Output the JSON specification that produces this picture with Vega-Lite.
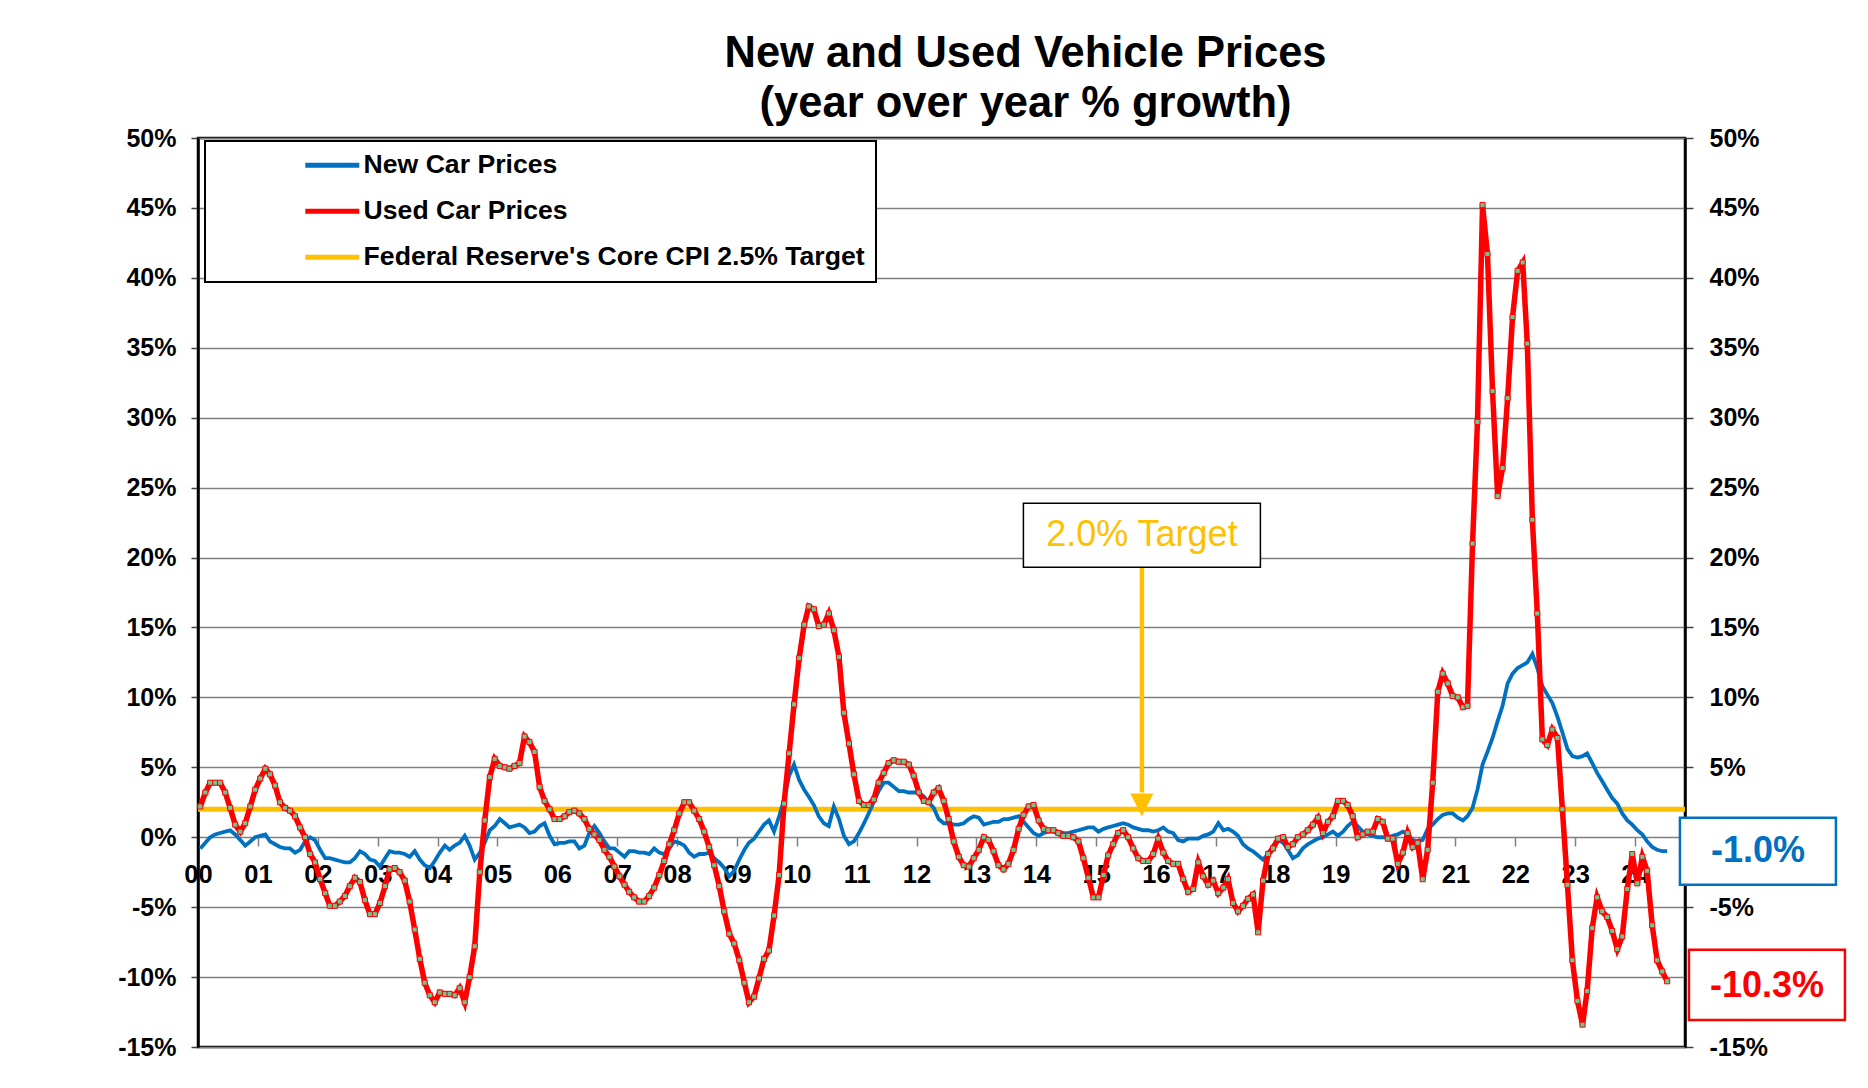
{
"$schema": "https://vega.github.io/schema/vega-lite/v6.json",
"width": 1487,
"height": 909,
"autosize": {"type": "none"},
"padding": {"left": 198, "top": 138, "right": 183, "bottom": 41},
"background": "white",
"title": {"text": ["New and Used Vehicle Prices", "(year over year % growth)"], "anchor": "middle", "frame": "group", "dx": 84, "offset": 0, "font": "Liberation Sans", "fontSize": 43.5, "fontWeight": "bold", "color": "black", "lineHeight": 50},
"datasets": {
"main": [
{"d":"2000-01-15","new":-0.8,"used":2.2},{"d":"2000-02-15","new":-0.4,"used":3.2},{"d":"2000-03-15","new":0.0,"used":3.9},{"d":"2000-04-15","new":0.2,"used":3.9},{"d":"2000-05-15","new":0.3,"used":3.9},{"d":"2000-06-15","new":0.4,"used":3.2},{"d":"2000-07-15","new":0.5,"used":2.1},{"d":"2000-08-15","new":0.2,"used":0.9},{"d":"2000-09-15","new":-0.2,"used":0.4},{"d":"2000-10-15","new":-0.6,"used":1.0},{"d":"2000-11-15","new":-0.3,"used":2.2},{"d":"2000-12-15","new":0.0,"used":3.4},
{"d":"2001-01-15","new":0.1,"used":4.2},{"d":"2001-02-15","new":0.2,"used":4.9},{"d":"2001-03-15","new":-0.3,"used":4.5},{"d":"2001-04-15","new":-0.5,"used":3.7},{"d":"2001-05-15","new":-0.7,"used":2.5},{"d":"2001-06-15","new":-0.8,"used":2.1},{"d":"2001-07-15","new":-0.8,"used":1.9},{"d":"2001-08-15","new":-1.1,"used":1.5},{"d":"2001-09-15","new":-0.9,"used":0.7},{"d":"2001-10-15","new":-0.3,"used":0.0},{"d":"2001-11-15","new":0.0,"used":-1.2},{"d":"2001-12-15","new":-0.2,"used":-1.8},
{"d":"2002-01-15","new":-0.9,"used":-3.0},{"d":"2002-02-15","new":-1.5,"used":-4.0},{"d":"2002-03-15","new":-1.5,"used":-4.9},{"d":"2002-04-15","new":-1.6,"used":-4.9},{"d":"2002-05-15","new":-1.7,"used":-4.6},{"d":"2002-06-15","new":-1.8,"used":-4.2},{"d":"2002-07-15","new":-1.8,"used":-3.5},{"d":"2002-08-15","new":-1.5,"used":-2.9},{"d":"2002-09-15","new":-1.0,"used":-3.2},{"d":"2002-10-15","new":-1.2,"used":-4.5},{"d":"2002-11-15","new":-1.6,"used":-5.5},{"d":"2002-12-15","new":-1.7,"used":-5.5},
{"d":"2003-01-15","new":-2.1,"used":-4.7},{"d":"2003-02-15","new":-1.5,"used":-3.5},{"d":"2003-03-15","new":-1.0,"used":-2.3},{"d":"2003-04-15","new":-1.1,"used":-2.2},{"d":"2003-05-15","new":-1.1,"used":-2.5},{"d":"2003-06-15","new":-1.2,"used":-3.1},{"d":"2003-07-15","new":-1.4,"used":-4.6},{"d":"2003-08-15","new":-1.0,"used":-6.6},{"d":"2003-09-15","new":-1.6,"used":-8.7},{"d":"2003-10-15","new":-2.0,"used":-10.4},{"d":"2003-11-15","new":-2.2,"used":-11.3},{"d":"2003-12-15","new":-1.7,"used":-11.8},
{"d":"2004-01-15","new":-1.1,"used":-11.1},{"d":"2004-02-15","new":-0.6,"used":-11.2},{"d":"2004-03-15","new":-0.9,"used":-11.2},{"d":"2004-04-15","new":-0.6,"used":-11.3},{"d":"2004-05-15","new":-0.4,"used":-10.8},{"d":"2004-06-15","new":0.1,"used":-11.8},{"d":"2004-07-15","new":-0.6,"used":-10.0},{"d":"2004-08-15","new":-1.6,"used":-7.8},{"d":"2004-09-15","new":-1.1,"used":-2.5},{"d":"2004-10-15","new":-0.4,"used":1.2},{"d":"2004-11-15","new":0.5,"used":4.3},{"d":"2004-12-15","new":0.8,"used":5.6},
{"d":"2005-01-15","new":1.3,"used":5.1},{"d":"2005-02-15","new":1.0,"used":5.0},{"d":"2005-03-15","new":0.7,"used":4.9},{"d":"2005-04-15","new":0.8,"used":5.1},{"d":"2005-05-15","new":0.9,"used":5.3},{"d":"2005-06-15","new":0.7,"used":7.2},{"d":"2005-07-15","new":0.3,"used":6.8},{"d":"2005-08-15","new":0.4,"used":6.1},{"d":"2005-09-15","new":0.8,"used":3.6},{"d":"2005-10-15","new":1.0,"used":2.6},{"d":"2005-11-15","new":0.1,"used":2.0},{"d":"2005-12-15","new":-0.5,"used":1.3},
{"d":"2006-01-15","new":-0.4,"used":1.3},{"d":"2006-02-15","new":-0.4,"used":1.5},{"d":"2006-03-15","new":-0.3,"used":1.8},{"d":"2006-04-15","new":-0.3,"used":1.9},{"d":"2006-05-15","new":-0.8,"used":1.7},{"d":"2006-06-15","new":-0.6,"used":1.3},{"d":"2006-07-15","new":0.3,"used":0.6},{"d":"2006-08-15","new":0.8,"used":0.2},{"d":"2006-09-15","new":0.3,"used":-0.2},{"d":"2006-10-15","new":-0.3,"used":-0.9},{"d":"2006-11-15","new":-0.8,"used":-1.4},{"d":"2006-12-15","new":-0.8,"used":-2.1},
{"d":"2007-01-15","new":-1.1,"used":-2.8},{"d":"2007-02-15","new":-1.4,"used":-3.4},{"d":"2007-03-15","new":-1.0,"used":-3.9},{"d":"2007-04-15","new":-1.0,"used":-4.3},{"d":"2007-05-15","new":-1.1,"used":-4.6},{"d":"2007-06-15","new":-1.1,"used":-4.6},{"d":"2007-07-15","new":-1.2,"used":-4.2},{"d":"2007-08-15","new":-0.8,"used":-3.6},{"d":"2007-09-15","new":-1.1,"used":-2.7},{"d":"2007-10-15","new":-1.2,"used":-1.7},{"d":"2007-11-15","new":-0.8,"used":-0.5},{"d":"2007-12-15","new":-0.3,"used":0.5},
{"d":"2008-01-15","new":-0.4,"used":1.7},{"d":"2008-02-15","new":-0.6,"used":2.5},{"d":"2008-03-15","new":-1.1,"used":2.5},{"d":"2008-04-15","new":-1.4,"used":1.9},{"d":"2008-05-15","new":-1.2,"used":1.3},{"d":"2008-06-15","new":-1.2,"used":0.4},{"d":"2008-07-15","new":-1.1,"used":-0.7},{"d":"2008-08-15","new":-1.5,"used":-2.0},{"d":"2008-09-15","new":-1.8,"used":-3.5},{"d":"2008-10-15","new":-2.2,"used":-5.3},{"d":"2008-11-15","new":-2.8,"used":-6.9},{"d":"2008-12-15","new":-2.4,"used":-7.6},
{"d":"2009-01-15","new":-1.6,"used":-8.8},{"d":"2009-02-15","new":-0.9,"used":-10.4},{"d":"2009-03-15","new":-0.4,"used":-11.8},{"d":"2009-04-15","new":-0.1,"used":-11.4},{"d":"2009-05-15","new":0.4,"used":-10.1},{"d":"2009-06-15","new":0.9,"used":-8.7},{"d":"2009-07-15","new":1.2,"used":-8.1},{"d":"2009-08-15","new":0.4,"used":-5.6},{"d":"2009-09-15","new":1.5,"used":-2.7},{"d":"2009-10-15","new":2.7,"used":2.4},{"d":"2009-11-15","new":4.4,"used":6.0},{"d":"2009-12-15","new":5.2,"used":9.5},
{"d":"2010-01-15","new":4.1,"used":12.8},{"d":"2010-02-15","new":3.4,"used":15.2},{"d":"2010-03-15","new":2.9,"used":16.5},{"d":"2010-04-15","new":2.3,"used":16.3},{"d":"2010-05-15","new":1.5,"used":15.1},{"d":"2010-06-15","new":1.0,"used":15.2},{"d":"2010-07-15","new":0.8,"used":16.0},{"d":"2010-08-15","new":2.2,"used":14.8},{"d":"2010-09-15","new":1.3,"used":12.9},{"d":"2010-10-15","new":0.1,"used":8.9},{"d":"2010-11-15","new":-0.5,"used":6.7},{"d":"2010-12-15","new":-0.3,"used":4.5},
{"d":"2011-01-15","new":0.3,"used":2.6},{"d":"2011-02-15","new":1.0,"used":2.3},{"d":"2011-03-15","new":1.7,"used":2.3},{"d":"2011-04-15","new":2.5,"used":2.7},{"d":"2011-05-15","new":3.3,"used":3.9},{"d":"2011-06-15","new":3.9,"used":4.6},{"d":"2011-07-15","new":3.9,"used":5.3},{"d":"2011-08-15","new":3.6,"used":5.5},{"d":"2011-09-15","new":3.3,"used":5.4},{"d":"2011-10-15","new":3.3,"used":5.4},{"d":"2011-11-15","new":3.2,"used":5.2},{"d":"2011-12-15","new":3.2,"used":4.4},
{"d":"2012-01-15","new":3.2,"used":3.2},{"d":"2012-02-15","new":2.9,"used":2.6},{"d":"2012-03-15","new":2.5,"used":2.5},{"d":"2012-04-15","new":2.1,"used":3.2},{"d":"2012-05-15","new":1.3,"used":3.5},{"d":"2012-06-15","new":1.0,"used":2.6},{"d":"2012-07-15","new":1.0,"used":1.3},{"d":"2012-08-15","new":0.9,"used":-0.3},{"d":"2012-09-15","new":0.9,"used":-1.4},{"d":"2012-10-15","new":1.0,"used":-2.0},{"d":"2012-11-15","new":1.3,"used":-2.1},{"d":"2012-12-15","new":1.5,"used":-1.5},
{"d":"2013-01-15","new":1.4,"used":-0.9},{"d":"2013-02-15","new":0.9,"used":0.0},{"d":"2013-03-15","new":1.0,"used":-0.2},{"d":"2013-04-15","new":1.1,"used":-1.0},{"d":"2013-05-15","new":1.1,"used":-2.0},{"d":"2013-06-15","new":1.3,"used":-2.3},{"d":"2013-07-15","new":1.3,"used":-1.9},{"d":"2013-08-15","new":1.4,"used":-0.9},{"d":"2013-09-15","new":1.5,"used":0.6},{"d":"2013-10-15","new":1.1,"used":1.6},{"d":"2013-11-15","new":0.7,"used":2.2},{"d":"2013-12-15","new":0.3,"used":2.3},
{"d":"2014-01-15","new":0.1,"used":1.2},{"d":"2014-02-15","new":0.3,"used":0.6},{"d":"2014-03-15","new":0.4,"used":0.5},{"d":"2014-04-15","new":0.4,"used":0.5},{"d":"2014-05-15","new":0.4,"used":0.3},{"d":"2014-06-15","new":0.3,"used":0.1},{"d":"2014-07-15","new":0.3,"used":0.1},{"d":"2014-08-15","new":0.4,"used":0.0},{"d":"2014-09-15","new":0.5,"used":-0.3},{"d":"2014-10-15","new":0.6,"used":-1.5},{"d":"2014-11-15","new":0.7,"used":-2.9},{"d":"2014-12-15","new":0.7,"used":-4.3},
{"d":"2015-01-15","new":0.4,"used":-4.3},{"d":"2015-02-15","new":0.6,"used":-2.7},{"d":"2015-03-15","new":0.7,"used":-1.3},{"d":"2015-04-15","new":0.8,"used":-0.5},{"d":"2015-05-15","new":0.9,"used":0.3},{"d":"2015-06-15","new":1.0,"used":0.5},{"d":"2015-07-15","new":0.9,"used":0.0},{"d":"2015-08-15","new":0.7,"used":-0.8},{"d":"2015-09-15","new":0.6,"used":-1.5},{"d":"2015-10-15","new":0.5,"used":-1.7},{"d":"2015-11-15","new":0.5,"used":-1.7},{"d":"2015-12-15","new":0.4,"used":-1.2},
{"d":"2016-01-15","new":0.5,"used":-0.1},{"d":"2016-02-15","new":0.7,"used":-1.1},{"d":"2016-03-15","new":0.4,"used":-1.7},{"d":"2016-04-15","new":0.3,"used":-1.9},{"d":"2016-05-15","new":-0.2,"used":-1.9},{"d":"2016-06-15","new":-0.3,"used":-3.0},{"d":"2016-07-15","new":-0.1,"used":-3.9},{"d":"2016-08-15","new":-0.1,"used":-3.7},{"d":"2016-09-15","new":-0.1,"used":-1.8},{"d":"2016-10-15","new":0.1,"used":-2.8},{"d":"2016-11-15","new":0.2,"used":-3.4},{"d":"2016-12-15","new":0.4,"used":-3.1},
{"d":"2017-01-15","new":1.0,"used":-4.0},{"d":"2017-02-15","new":0.5,"used":-3.6},{"d":"2017-03-15","new":0.6,"used":-3.0},{"d":"2017-04-15","new":0.4,"used":-4.7},{"d":"2017-05-15","new":0.1,"used":-5.3},{"d":"2017-06-15","new":-0.5,"used":-4.9},{"d":"2017-07-15","new":-0.8,"used":-4.4},{"d":"2017-08-15","new":-1.0,"used":-4.1},{"d":"2017-09-15","new":-1.3,"used":-6.8},{"d":"2017-10-15","new":-1.6,"used":-3.1},{"d":"2017-11-15","new":-1.2,"used":-1.2},{"d":"2017-12-15","new":-0.6,"used":-0.8},
{"d":"2018-01-15","new":-0.2,"used":-0.1},{"d":"2018-02-15","new":-0.4,"used":0.0},{"d":"2018-03-15","new":-0.9,"used":-0.7},{"d":"2018-04-15","new":-1.5,"used":-0.5},{"d":"2018-05-15","new":-1.3,"used":0.0},{"d":"2018-06-15","new":-0.8,"used":0.2},{"d":"2018-07-15","new":-0.5,"used":0.5},{"d":"2018-08-15","new":-0.3,"used":0.9},{"d":"2018-09-15","new":-0.1,"used":1.4},{"d":"2018-10-15","new":0.0,"used":0.3},{"d":"2018-11-15","new":0.2,"used":1.1},{"d":"2018-12-15","new":0.4,"used":1.5},
{"d":"2019-01-15","new":0.1,"used":2.6},{"d":"2019-02-15","new":0.4,"used":2.6},{"d":"2019-03-15","new":0.8,"used":2.3},{"d":"2019-04-15","new":1.1,"used":1.5},{"d":"2019-05-15","new":0.8,"used":0.0},{"d":"2019-06-15","new":0.4,"used":0.2},{"d":"2019-07-15","new":0.2,"used":0.4},{"d":"2019-08-15","new":0.1,"used":0.4},{"d":"2019-09-15","new":0.0,"used":1.3},{"d":"2019-10-15","new":0.0,"used":1.1},{"d":"2019-11-15","new":0.0,"used":-0.1},{"d":"2019-12-15","new":0.1,"used":-0.1},
{"d":"2020-01-15","new":0.2,"used":-1.9},{"d":"2020-02-15","new":0.4,"used":-1.1},{"d":"2020-03-15","new":0.2,"used":0.3},{"d":"2020-04-15","new":-0.2,"used":-0.7},{"d":"2020-05-15","new":-0.3,"used":-0.4},{"d":"2020-06-15","new":-0.2,"used":-3.0},{"d":"2020-07-15","new":0.6,"used":-0.9},{"d":"2020-08-15","new":0.9,"used":3.9},{"d":"2020-09-15","new":1.3,"used":10.4},{"d":"2020-10-15","new":1.6,"used":11.7},{"d":"2020-11-15","new":1.7,"used":11.0},{"d":"2020-12-15","new":1.7,"used":10.1},
{"d":"2021-01-15","new":1.4,"used":10.0},{"d":"2021-02-15","new":1.2,"used":9.3},{"d":"2021-03-15","new":1.5,"used":9.4},{"d":"2021-04-15","new":2.1,"used":21.0},{"d":"2021-05-15","new":3.4,"used":29.7},{"d":"2021-06-15","new":5.2,"used":45.2},{"d":"2021-07-15","new":6.1,"used":41.7},{"d":"2021-08-15","new":7.1,"used":31.9},{"d":"2021-09-15","new":8.3,"used":24.4},{"d":"2021-10-15","new":9.4,"used":26.4},{"d":"2021-11-15","new":11.0,"used":31.4},{"d":"2021-12-15","new":11.7,"used":37.2},
{"d":"2022-01-15","new":12.1,"used":40.5},{"d":"2022-02-15","new":12.3,"used":41.1},{"d":"2022-03-15","new":12.5,"used":35.3},{"d":"2022-04-15","new":13.1,"used":22.7},{"d":"2022-05-15","new":12.1,"used":16.0},{"d":"2022-06-15","new":10.8,"used":7.0},{"d":"2022-07-15","new":10.2,"used":6.6},{"d":"2022-08-15","new":9.6,"used":7.7},{"d":"2022-09-15","new":8.6,"used":7.1},{"d":"2022-10-15","new":7.5,"used":2.0},{"d":"2022-11-15","new":6.3,"used":-3.4},{"d":"2022-12-15","new":5.8,"used":-8.8},
{"d":"2023-01-15","new":5.7,"used":-11.7},{"d":"2023-02-15","new":5.8,"used":-13.4},{"d":"2023-03-15","new":6.0,"used":-11.0},{"d":"2023-04-15","new":5.3,"used":-6.5},{"d":"2023-05-15","new":4.6,"used":-4.3},{"d":"2023-06-15","new":4.0,"used":-5.3},{"d":"2023-07-15","new":3.4,"used":-5.7},{"d":"2023-08-15","new":2.8,"used":-6.7},{"d":"2023-09-15","new":2.4,"used":-8.0},{"d":"2023-10-15","new":1.7,"used":-7.1},{"d":"2023-11-15","new":1.2,"used":-3.7},{"d":"2023-12-15","new":0.9,"used":-1.2},
{"d":"2024-01-15","new":0.5,"used":-3.3},{"d":"2024-02-15","new":0.2,"used":-1.4},{"d":"2024-03-15","new":-0.3,"used":-2.4},{"d":"2024-04-15","new":-0.7,"used":-6.3},{"d":"2024-05-15","new":-0.9,"used":-8.8},{"d":"2024-06-15","new":-1.0,"used":-9.6},{"d":"2024-07-15","new":-1.0,"used":-10.3}
],
"target": [{"d":"2000-01-01","value":2.0},{"d":"2024-11-01","value":2.0}],
"ends": [{"d":"2024-07-15","value":-1.0,"label":"-1.0%","series":"new"},{"d":"2024-07-15","value":-10.3,"label":"-10.3%","series":"used"}],
"note": [{"label":"2.0% Target"}]
},
"layer": [
{"data":{"name":"target"},
 "mark":{"type":"line","strokeWidth":5,"strokeCap":"butt"},
 "encoding":{
  "x":{"field":"d","type":"temporal","title":null,
   "scale":{"type":"utc","domain":[{"year":2000,"month":1,"date":1,"utc":true},{"year":2024,"month":11,"date":1,"utc":true}]},
   "axis":{"orient":"bottom","offset":-210,"format":"%y","tickCount":{"interval":"year","step":1},"domain":false,"grid":false,"ticks":true,"tickColor":"#808080","tickWidth":1.5,"tickSize":9,"labelPadding":16,"labelFont":"Liberation Sans","labelFontSize":25.5,"labelFontWeight":"bold","labelColor":"black","labelFlush":false,"labelOverlap":false,"labelAlign":"center","title":null}},
  "y":{"field":"value","type":"quantitative","title":null,"scale":{"domain":[-15,50],"nice":false,"zero":false},
   "axis":{"orient":"left","values":[-15,-10,-5,0,5,10,15,20,25,30,35,40,45,50],"labelExpr":"datum.value + '%'","grid":true,"gridColor":"#7f7f7f","gridWidth":1.5,"domain":true,"domainColor":"black","domainWidth":2.5,"ticks":true,"tickColor":"#404040","tickWidth":1.5,"tickSize":7,"labelPadding":15,"labelFont":"Liberation Sans","labelFontSize":25,"labelFontWeight":"bold","labelColor":"black","title":null}},
  "color":{"datum":"Federal Reserve's Core CPI 2.5% Target","type":"nominal",
   "scale":{"domain":["New Car Prices","Used Car Prices","Federal Reserve's Core CPI 2.5% Target"],"range":["#0070C0","#FF0000","#FFC000"]},
   "legend":{"orient":"none","legendX":7,"legendY":3,"title":null,"symbolType":"M-2.7,0H2.7","symbolSize":400,"symbolStrokeWidth":5,"symbolOffset":103,"labelOffset":18,"padding":11,"rowPadding":19,"fillColor":"white","strokeColor":"black","labelFont":"Liberation Sans","labelFontSize":26.6,"labelFontWeight":"bold","labelColor":"black","labelLimit":0}}
 }},
{"data":{"name":"main"},
 "mark":{"type":"line","strokeWidth":3.8},
 "encoding":{
  "x":{"field":"d","type":"temporal","title":null},
  "y":{"field":"new","type":"quantitative","title":null,
   "axis":{"orient":"right","values":[-15,-5,5,10,15,20,25,30,35,40,45,50],"labelExpr":"datum.value + '%'","grid":false,"domain":true,"domainColor":"black","domainWidth":2.5,"ticks":true,"tickColor":"#404040","tickWidth":1.5,"tickSize":8,"labelPadding":16,"labelFont":"Liberation Sans","labelFontSize":25,"labelFontWeight":"bold","labelColor":"black","title":null}},
  "color":{"datum":"New Car Prices","type":"nominal"}
 }},
{"data":{"name":"main"},
 "mark":{"type":"line","strokeWidth":5.5},
 "encoding":{
  "x":{"field":"d","type":"temporal","title":null},
  "y":{"field":"used","type":"quantitative","title":null,"axis":null},
  "color":{"datum":"Used Car Prices","type":"nominal"}
 }},
{"data":{"name":"main"},
 "mark":{"type":"point","shape":"square","filled":true,"fill":"#70C68F","stroke":"#FF0000","strokeWidth":1,"size":26,"opacity":1},
 "encoding":{
  "x":{"field":"d","type":"temporal","title":null},
  "y":{"field":"used","type":"quantitative","title":null,"axis":null}
 }},
{"data":{"name":"note"},
 "mark":{"type":"rule","color":"#FFC000","strokeWidth":4.5},
 "encoding":{
  "x":{"datum":{"year":2015,"month":10,"date":7,"utc":true},"type":"temporal"},
  "y":{"datum":19.3,"type":"quantitative","axis":null},
  "y2":{"datum":3.2}
 }},
{"data":{"name":"note"},
 "mark":{"type":"point","shape":"M-1,-1L1,-1L0,1Z","size":529,"filled":true,"fill":"#FFC000","opacity":1},
 "encoding":{
  "x":{"datum":{"year":2015,"month":10,"date":7,"utc":true},"type":"temporal"},
  "y":{"datum":2.3,"type":"quantitative","axis":null}
 }},
{"data":{"name":"note"},
 "mark":{"type":"point","shape":"M-1,-0.27H1V0.27H-1Z","size":56169,"filled":true,"fill":"white","stroke":"black","strokeWidth":1.5,"opacity":1},
 "encoding":{
  "x":{"datum":{"year":2015,"month":10,"date":7,"utc":true},"type":"temporal"},
  "y":{"datum":21.6,"type":"quantitative","axis":null}
 }},
{"data":{"name":"note"},
 "mark":{"type":"text","font":"Liberation Sans","fontSize":36,"color":"#FFC000","align":"center","baseline":"middle"},
 "encoding":{
  "x":{"datum":{"year":2015,"month":10,"date":7,"utc":true},"type":"temporal"},
  "y":{"datum":21.6,"type":"quantitative","axis":null},
  "text":{"field":"label"}
 }},
{"data":{"name":"ends"},
 "transform":[{"filter":"datum.series == 'new'"}],
 "mark":{"type":"point","shape":"M-1,-0.43H1V0.43H-1Z","size":24336,"filled":true,"fill":"white","stroke":"#0070C0","strokeWidth":2.5,"opacity":1,"xOffset":90.8},
 "encoding":{
  "x":{"field":"d","type":"temporal","title":null},
  "y":{"field":"value","type":"quantitative","title":null,"axis":null}
 }},
{"data":{"name":"ends"},
 "transform":[{"filter":"datum.series == 'new'"}],
 "mark":{"type":"text","font":"Liberation Sans","fontSize":36,"fontWeight":"bold","color":"#0070C0","align":"center","baseline":"middle","xOffset":90.8},
 "encoding":{
  "x":{"field":"d","type":"temporal","title":null},
  "y":{"field":"value","type":"quantitative","title":null,"axis":null},
  "text":{"field":"label"}
 }},
{"data":{"name":"ends"},
 "transform":[{"filter":"datum.series == 'used'"}],
 "mark":{"type":"point","shape":"M-1,-0.45H1V0.45H-1Z","size":24336,"filled":true,"fill":"white","stroke":"#FF0000","strokeWidth":2.5,"opacity":1,"xOffset":99.8,"yOffset":3.7},
 "encoding":{
  "x":{"field":"d","type":"temporal","title":null},
  "y":{"field":"value","type":"quantitative","title":null,"axis":null}
 }},
{"data":{"name":"ends"},
 "transform":[{"filter":"datum.series == 'used'"}],
 "mark":{"type":"text","font":"Liberation Sans","fontSize":36,"fontWeight":"bold","color":"#FF0000","align":"center","baseline":"middle","xOffset":99.8,"yOffset":4.7},
 "encoding":{
  "x":{"field":"d","type":"temporal","title":null},
  "y":{"field":"value","type":"quantitative","title":null,"axis":null},
  "text":{"field":"label"}
 }}
],
"resolve":{"scale":{"y":"shared"},"axis":{"y":"independent"}},
"config":{
 "view":{"stroke":"black","strokeWidth":2.5},
 "font":"Liberation Sans",
 "legend":{"strokeWidth":2}
}
}
